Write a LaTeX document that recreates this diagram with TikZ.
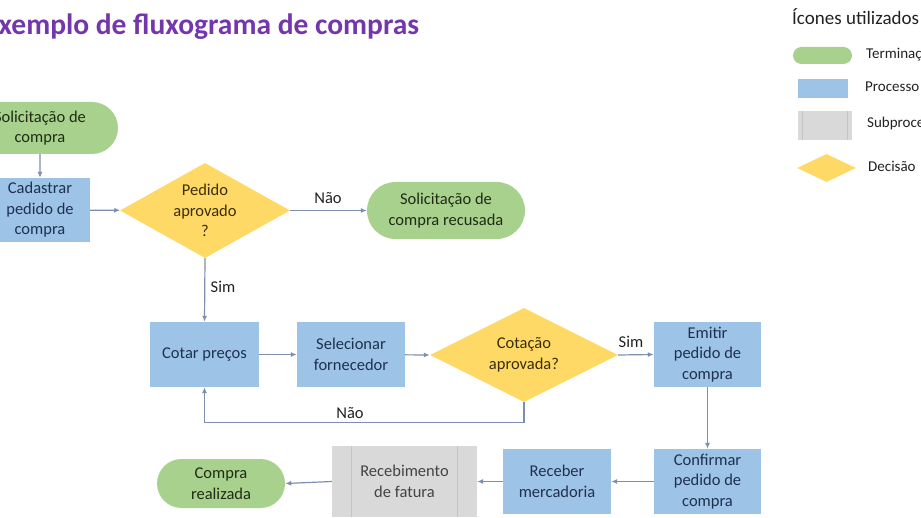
\documentclass[tikz,border=0pt]{standalone}
\usepackage{fontspec}
\setmainfont{Carlito}
\usetikzlibrary{arrows.meta,shapes.geometric,shapes.misc}
\definecolor{tgreen}{HTML}{A9D18E}
\definecolor{pblue}{HTML}{9DC3E6}
\definecolor{dyellow}{HTML}{FFD966}
\definecolor{sgray}{HTML}{D9D9D9}
\definecolor{sline}{HTML}{C4C4C4}
\definecolor{arrc}{HTML}{7E8FAE}
\definecolor{titlec}{HTML}{7436AC}
\definecolor{gtext}{HTML}{1F2B15}
\definecolor{btext}{HTML}{1F3050}
\definecolor{ytext}{HTML}{3A2E05}
\definecolor{ltext}{HTML}{222222}
\tikzset{
  base/.style={font=\fontsize{16.5}{20.5}\selectfont, align=center, inner sep=0pt},
  term/.style={base, rounded rectangle, fill=tgreen, text=gtext},
  proc/.style={base, rectangle, fill=pblue, text=btext},
  subp/.style={base, rectangle, fill=sgray, text=ltext!85},
  dec/.style={base, diamond, fill=dyellow, text=ytext, shape aspect=1.8},
  arr/.style={draw=arrc, line width=1.2pt, -{Latex[length=6pt,width=5pt]}},
  lbl/.style={font=\fontsize{16.5}{20.5}\selectfont, text=ltext, inner sep=0pt},
  leg/.style={font=\fontsize{15}{18}\selectfont, text=ltext, inner sep=0pt, anchor=west},
  subln/.style={draw=sline, line width=1pt}
}
\begin{document}
\begin{tikzpicture}[x=1pt,y=-1pt]
\useasboundingbox (0,0) rectangle (921,518);
\fill[white] (0,0) rectangle (921,518);

% title
\node[anchor=base west, inner sep=0pt, text=titlec, font=\fontsize{29.5}{35}\selectfont\bfseries] (title) at (-16,35) {Exemplo de fluxograma de compras};

% flow nodes
\node[term, minimum width=156pt, minimum height=52pt] (t1) at (40,128) {Solicitação de\\compra};
\node[proc, minimum width=100pt, minimum height=64pt] (cad) at (40,210) {Cadastrar\\pedido de\\compra};
\node[dec, minimum width=170pt, minimum height=95pt] (d1) at (205,210.5) {Pedido\\aprovado\\?};
\node[term, minimum width=158pt, minimum height=57pt] (t2) at (446,210.5) {Solicitação de\\compra recusada};
\node[proc, minimum width=109pt, minimum height=65pt] (cot) at (204.5,354.5) {Cotar preços};
\node[proc, minimum width=108pt, minimum height=65pt] (sel) at (351,354.5) {Selecionar\\fornecedor};
\node[dec, minimum width=188pt, minimum height=94pt] (d2) at (524,355) {Cotação\\aprovada?};
\node[proc, minimum width=107pt, minimum height=65pt] (emi) at (707.5,354.5) {Emitir\\pedido de\\compra};
\node[proc, minimum width=107pt, minimum height=65pt] (conf) at (707.5,481.5) {Confirmar\\pedido de\\compra};
\node[proc, minimum width=108pt, minimum height=65pt] (rec) at (557,481.5) {Receber\\mercadoria};
\node[subp, minimum width=145pt, minimum height=71pt] (sub) at (404.5,481.5) {Recebimento\\de fatura};
\draw[subln] ([xshift=20pt]sub.north west) -- ([xshift=20pt]sub.south west);
\draw[subln] ([xshift=-20pt]sub.north east) -- ([xshift=-20pt]sub.south east);
\node[term, minimum width=128pt, minimum height=49pt] (fim) at (221,483.5) {Compra\\realizada};

% connectors
\draw[arr] (t1) -- (cad);
\draw[arr] (cad) -- (d1);
\draw[arr] (d1.east) -- (t2.west);
\draw[arr] (d1.south) -- (cot.north);
\draw[arr] (cot) -- (sel);
\draw[arr] (sel) -- (d2.west);
\draw[arr] (d2.east) -- (emi.west);
\draw[arr] (d2.south) -- ++(0,20) -| (cot.south);
\draw[arr] (emi) -- (conf);
\draw[arr] (conf) -- (rec);
\draw[arr] (rec) -- (sub);
\draw[arr] (sub.west) -- (fim.east);

% labels
\node[lbl] (l1) at (328,198) {Não};
\node[lbl] (l2) at (223,287) {Sim};
\node[lbl] (l3) at (631,342) {Sim};
\node[lbl] (l4) at (350,413) {Não};

% legend
\node[anchor=west, inner sep=0pt, text=ltext, font=\fontsize{19}{23}\selectfont] (legt) at (792,17) {Ícones utilizados};
\node[rounded rectangle, fill=tgreen, minimum width=59pt, minimum height=17pt, inner sep=0pt] (lg1) at (822.5,55.5) {};
\node[leg] (lt1) at (866,55) {Terminação};
\node[rectangle, fill=pblue, minimum width=50pt, minimum height=19pt, inner sep=0pt] (lg2) at (823,88.5) {};
\node[leg] (lt2) at (865,87) {Processo};
\node[rectangle, fill=sgray, minimum width=54pt, minimum height=29pt, inner sep=0pt] (lg3) at (825,125.5) {};
\draw[subln, line width=0.8pt] ([xshift=5pt]lg3.north west) -- ([xshift=5pt]lg3.south west);
\draw[subln, line width=0.8pt] ([xshift=-5pt]lg3.north east) -- ([xshift=-5pt]lg3.south east);
\node[leg] (lt3) at (867,124) {Subprocesso};
\node[diamond, fill=dyellow, minimum width=59pt, minimum height=28pt, inner sep=0pt, shape aspect=2.1] (lg4) at (826.5,168) {};
\node[leg] (lt4) at (868,166) {Decisão};
\end{tikzpicture}
\end{document}
